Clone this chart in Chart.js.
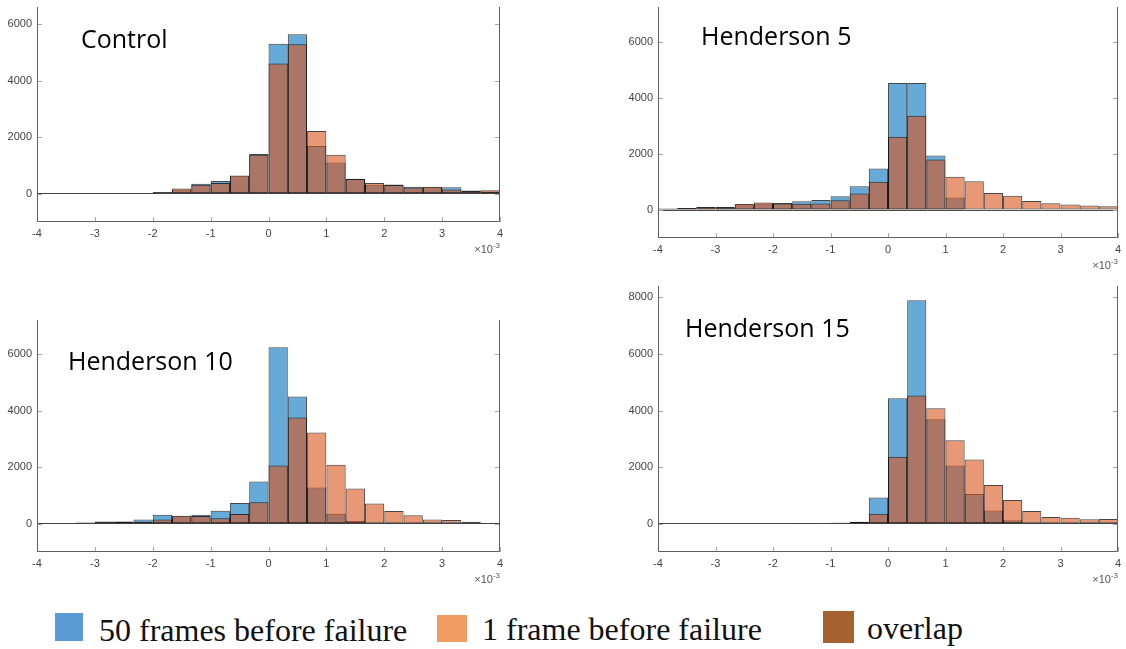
<!DOCTYPE html>
<html>
<head>
<meta charset="utf-8">
<script src="https://cdn.jsdelivr.net/npm/chart.js@4.4.1/dist/chart.umd.min.js"></script>
<style>
  html, body { margin: 0; padding: 0; background: #ffffff; }
  body { width: 1126px; height: 649px; position: relative; overflow: hidden; }
  canvas { position: absolute; }
  .title { position: absolute; font-family: 'Open Sans', sans-serif; font-size: 25px; line-height: 25px; color: #000; white-space: nowrap; }
  .exp { position: absolute; font-family: 'Liberation Sans', Arial, sans-serif; font-size: 11px; line-height: 11px; color: #555; white-space: nowrap; }
  .exp .sup { font-size: 8px; line-height: 0; vertical-align: 5px; }
  .sw { position: absolute; }
  .lt { position: absolute; font-family: 'Liberation Serif', 'Times New Roman', serif; font-size: 32px; line-height: 32px; color: #111; white-space: nowrap; }
</style>
</head>
<body>
<script>
// ---------------- data ----------------
const binCenters = [-3.833, -3.5, -3.167, -2.833, -2.5, -2.167, -1.833, -1.5, -1.167, -0.833, -0.5, -0.167,
                    0.167, 0.5, 0.833, 1.167, 1.5, 1.833, 2.167, 2.5, 2.833, 3.167, 3.5, 3.833];
const xTickValues = [-4, -3, -2, -1, 0, 1, 2, 3, 4];
const xTickLabels = ['-4', '-3', '-2', '-1', '0', '1', '2', '3', '4'];
const yTickValuesSmall = [0, 2000, 4000, 6000];
const yTickLabelsSmall = ['0', '2000', '4000', '6000'];
const yTickValuesLarge = [0, 2000, 4000, 6000, 8000];
const yTickLabelsLarge = ['0', '2000', '4000', '6000', '8000'];

const panelNames = ['Control', 'Henderson 5', 'Henderson 10', 'Henderson 15'];
const legendLabels = ['50 frames before failure', '1 frame before failure', 'overlap'];
const exponentText = '\u00d710';
const exponentSup = '-3';

const control50 = [10, 5, 5, 5, 5, 5, 30, 150, 350, 450, 620, 1400, 5300, 5640, 1690, 1100, 530, 320, 330, 250, 230, 230, 110, 80];
const control1  = [10, 5, 5, 5, 5, 5, 60, 180, 320, 380, 640, 1380, 4600, 5280, 2220, 1380, 520, 380, 310, 220, 250, 150, 100, 120];

const hend5_50 = [40, 60, 100, 110, 170, 230, 250, 310, 360, 490, 850, 1480, 4540, 4540, 1950, 450, 10, 5, 20, 5, 5, 5, 5, 5];
const hend5_1  = [50, 70, 110, 100, 210, 270, 230, 220, 230, 350, 590, 1010, 2620, 3370, 1800, 1190, 1030, 610, 510, 320, 240, 200, 160, 130];

const hend10_50 = [5, 10, 40, 50, 80, 150, 320, 260, 320, 460, 730, 1490, 6240, 4500, 1280, 350, 100, 10, 5, 5, 5, 20, 5, 5];
const hend10_1  = [5, 10, 30, 80, 70, 70, 150, 285, 270, 190, 340, 760, 2060, 3750, 3220, 2080, 1240, 710, 450, 300, 150, 130, 70, 5];

const hend15_50 = [0, 0, 0, 0, 0, 0, 0, 10, 0, 30, 60, 930, 4430, 7900, 3690, 2060, 1050, 470, 120, 35, 5, 5, 5, 5];
const hend15_1  = [0, 0, 0, 0, 0, 0, 0, 5, 0, 30, 70, 350, 2370, 4530, 4080, 2950, 2270, 1370, 840, 450, 240, 210, 155, 165];

// ---------------- layout / style ----------------
const BLUE = 'rgba(0,114,189,0.6)';
const ORANGE = 'rgba(217,83,25,0.6)';
const EDGE = 'rgba(0,0,0,0.72)';
const Y_AXIS_W = 37, X_AXIS_H = 40, PAD_T = 6, PAD_R = 8;

const panels = [
  { name: panelNames[0], s50: control50, s1: control1, yTicks: yTickValuesSmall, yLabels: yTickLabelsSmall,
    yMin: -1000, yMax: 6600, area: { l: 37, t: 7, r: 500, b: 222 }, title: { x: 81, base: 48 } },
  { name: panelNames[1], s50: hend5_50, s1: hend5_1, yTicks: yTickValuesSmall, yLabels: yTickLabelsSmall,
    yMin: -1000, yMax: 7250, area: { l: 658, t: 7, r: 1118, b: 238 }, title: { x: 701, base: 45 } },
  { name: panelNames[2], s50: hend10_50, s1: hend10_1, yTicks: yTickValuesSmall, yLabels: yTickLabelsSmall,
    yMin: -1000, yMax: 7200, area: { l: 37, t: 320, r: 500, b: 552 }, title: { x: 68, base: 370 } },
  { name: panelNames[3], s50: hend15_50, s1: hend15_1, yTicks: yTickValuesLarge, yLabels: yTickLabelsLarge,
    yMin: -1000, yMax: 8400, area: { l: 658, t: 286, r: 1118, b: 552 }, title: { x: 685, base: 337 } }
];

const axesPlugin = {
  id: 'matlabAxes',
  afterDraw(chart) {
    const { ctx, chartArea: a, scales: { x, y } } = chart;
    ctx.save();
    ctx.lineWidth = 1;
    // inward tick marks
    ctx.strokeStyle = '#a8a8a8';
    ctx.beginPath();
    x.ticks.forEach(t => {
      const px = Math.round(x.getPixelForValue(t.value)) + 0.5;
      ctx.moveTo(px, a.bottom); ctx.lineTo(px, a.bottom - 5);
    });
    y.ticks.forEach(t => {
      const py = Math.round(y.getPixelForValue(t.value)) + 0.5;
      ctx.moveTo(a.left, py); ctx.lineTo(a.left + 5, py);
      ctx.moveTo(a.right, py); ctx.lineTo(a.right - 5, py);
    });
    ctx.stroke();
    // axis lines (left, bottom, right)
    ctx.strokeStyle = '#5e5e5e';
    ctx.beginPath();
    const L = Math.round(a.left) + 0.5, R = Math.round(a.right) - 0.5, B = Math.round(a.bottom) - 0.5;
    ctx.moveTo(L, a.top); ctx.lineTo(L, B);
    ctx.lineTo(R, B); ctx.lineTo(R, a.top);
    ctx.stroke();
    ctx.restore();
  }
};

const tickFont = { family: "'Liberation Sans', Arial, sans-serif", size: 11 };

panels.forEach(p => {
  const cv = document.createElement('canvas');
  const left = p.area.l - Y_AXIS_W;
  const top = p.area.t - PAD_T;
  const w = p.area.r - left + PAD_R;
  const h = p.area.b - top + X_AXIS_H;
  cv.width = w; cv.height = h;
  cv.style.left = left + 'px'; cv.style.top = top + 'px';
  cv.style.width = w + 'px'; cv.style.height = h + 'px';
  document.body.appendChild(cv);

  const common = { borderColor: EDGE, borderWidth: 1, borderSkipped: false, grouped: false,
                   barPercentage: 1, categoryPercentage: 1, inflateAmount: 0 };

  new Chart(cv, {
    type: 'bar',
    data: {
      datasets: [
        Object.assign({ label: legendLabels[1], data: binCenters.map((c, i) => ({ x: c, y: p.s1[i] })),
                        backgroundColor: ORANGE, order: 0 }, common),
        Object.assign({ label: legendLabels[0], data: binCenters.map((c, i) => ({ x: c, y: p.s50[i] })),
                        backgroundColor: BLUE, order: 1 }, common)
      ]
    },
    options: {
      responsive: false, animation: false, events: [],
      devicePixelRatio: 1,
      layout: { padding: { top: PAD_T, right: PAD_R, left: 0, bottom: 0 } },
      plugins: { legend: { display: false }, tooltip: { enabled: false } },
      scales: {
        x: {
          type: 'linear', min: -4, max: 4, offset: false,
          grid: { display: false, drawTicks: false }, border: { display: false },
          afterBuildTicks: s => { s.ticks = xTickValues.map(v => ({ value: v })); },
          afterFit: s => { s.height = X_AXIS_H; s.paddingLeft = 0; s.paddingRight = 0; },
          ticks: { autoSkip: false, maxRotation: 0, minRotation: 0, padding: 5, color: '#444', font: tickFont,
                   callback: (v, i) => xTickLabels[i] }
        },
        y: {
          type: 'linear', min: p.yMin, max: p.yMax,
          grid: { drawTicks: false, lineWidth: 1,
                  color: c => (c.tick && c.tick.value === 0) ? '#4a4a4a' : 'rgba(0,0,0,0)' },
          border: { display: false },
          afterBuildTicks: s => { s.ticks = p.yTicks.map(v => ({ value: v })); },
          afterFit: s => { s.width = Y_AXIS_W; s.paddingTop = 0; s.paddingBottom = 0; },
          ticks: { padding: 5, color: '#444', font: tickFont, callback: (v, i) => p.yLabels[i] }
        }
      }
    },
    plugins: [axesPlugin]
  });

  // panel title
  const t = document.createElement('div');
  t.className = 'title';
  t.textContent = p.name;
  t.style.left = p.title.x + 'px';
  t.style.top = (p.title.base - 22) + 'px';
  document.body.appendChild(t);

  // x10^-3 exponent label
  const e = document.createElement('div');
  e.className = 'exp';
  e.innerHTML = exponentText + '<span class="sup">' + exponentSup + '</span>';
  e.style.right = (1126 - p.area.r) + 'px';
  e.style.top = (p.area.b + 31 - 9) + 'px';
  document.body.appendChild(e);
});

// ---------------- bottom legend ----------------
const legendSwatches = [
  { color: '#5B9BD5', x: 55, y: 613, w: 28, h: 28, tx: 99, base: 641 },
  { color: '#F19D62', x: 437, y: 615, w: 30, h: 27, tx: 482, base: 640 },
  { color: '#A5612F', x: 823, y: 611, w: 31, h: 32, tx: 867, base: 639 }
];
legendSwatches.forEach((s, i) => {
  const sw = document.createElement('div');
  sw.className = 'sw';
  Object.assign(sw.style, { left: s.x + 'px', top: s.y + 'px', width: s.w + 'px', height: s.h + 'px', background: s.color });
  document.body.appendChild(sw);
  const lt = document.createElement('div');
  lt.className = 'lt';
  lt.textContent = legendLabels[i];
  lt.style.left = s.tx + 'px';
  lt.style.top = (s.base - 27) + 'px';
  document.body.appendChild(lt);
});
</script>
</body>
</html>
